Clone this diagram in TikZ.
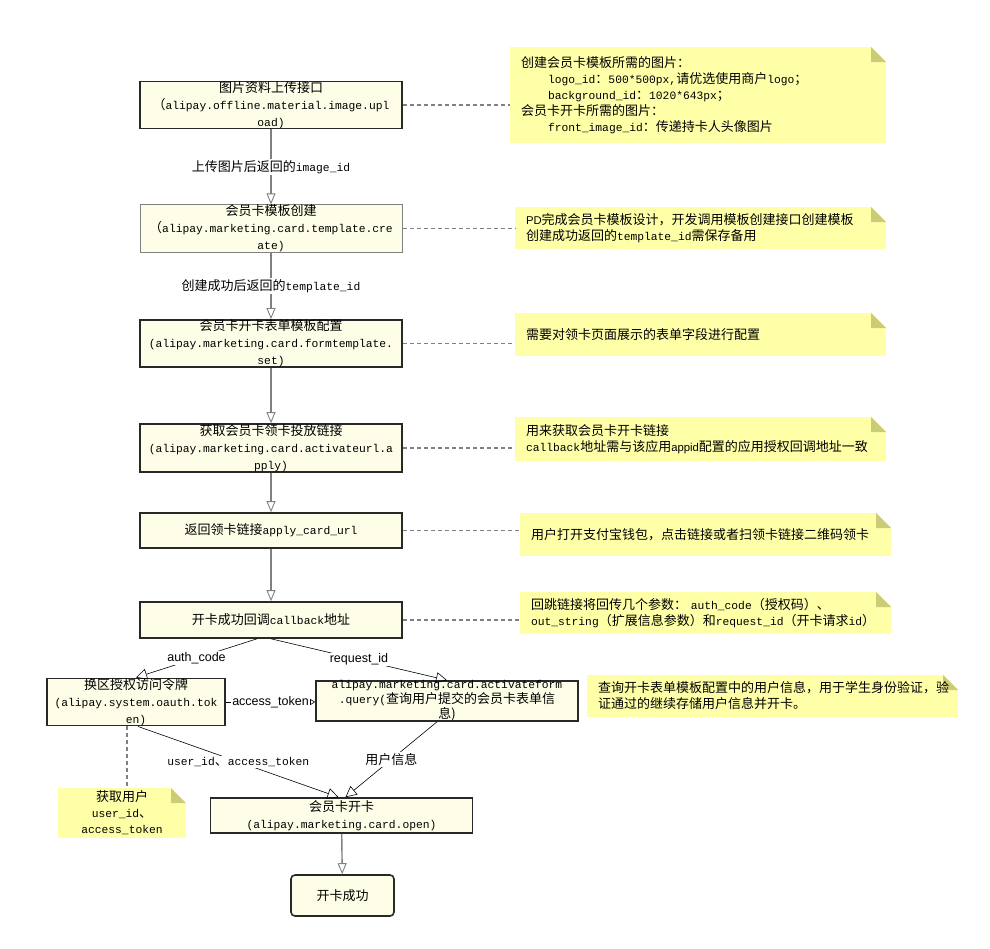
\documentclass[tikz,border=0pt]{standalone}
\usepackage{fontspec}
\setmonofont{Liberation Mono}
\newfontfamily\cjk{Noto Sans CJK SC}
\newfontfamily\lsans{Liberation Sans}
\usetikzlibrary{arrows.meta, positioning, calc}
\definecolor{boxfill}{RGB}{254,254,232}
\definecolor{boxline}{RGB}{40,40,40}
\definecolor{notefill}{RGB}{255,255,168}
\definecolor{notefold}{RGB}{204,204,120}
\definecolor{flowgray}{RGB}{128,128,128}
\newcommand{\zh}[1]{{\cjk\fontsize{13}{16}\selectfont #1}}

\begin{document}
\begin{tikzpicture}[x=1pt, y=-1pt,
  pbox/.style={draw=boxline, line width=1.6pt, fill=boxfill, minimum width=262pt, inner sep=0pt, align=center, font=\ttfamily\fontsize{11.3}{17}\selectfont},
  note/.style={fill=notefill, inner xsep=11pt, inner ysep=0pt, align=left, font=\ttfamily\fontsize{11.3}{16}\selectfont,
    path picture={
      \coordinate (foldne) at (path picture bounding box.north east);
      \fill[white] ([xshift=-15pt]foldne) -- (foldne) -- ([yshift=-15pt]foldne) -- cycle;
      \fill[notefold] ([xshift=-15pt]foldne) -- ([xshift=-15pt,yshift=-15pt]foldne) -- ([yshift=-15pt]foldne) -- cycle;
    }},
  flow/.style={draw=flowgray, line width=1.4pt, -{Triangle[open, length=11pt, width=9pt, line width=0.9pt]}},
  link/.style={draw=black, line width=0.6pt, -{Triangle[open, length=11pt, width=11pt]}},
  notelink/.style={draw=flowgray, line width=1.3pt, dash pattern=on 4pt off 3pt},
  elabel/.style={fill=white, inner sep=1.5pt, font=\ttfamily\fontsize{11.3}{14}\selectfont},
  slabel/.style={fill=white, inner sep=1pt, font=\lsans\fontsize{12.5}{14}\selectfont}
]
  \useasboundingbox (0,0) rectangle (990,948);

  % main flow
  \node[pbox, minimum height=46pt] (upload) at (271,105) {\zh{图片资料上传接口}\\\zh{（}alipay.offline.material.image.upl\\oad)};
  \node[pbox, minimum height=47pt, draw=flowgray, line width=1pt] (template) at (271,228.5) {\zh{会员卡模板创建}\\\zh{（}alipay.marketing.card.template.cre\\ate)};
  \node[pbox, minimum height=47pt] (formtpl) at (271,343.5) {\zh{会员卡开卡表单模板配置}\\(alipay.marketing.card.formtemplate.\\set)};
  \node[pbox, minimum height=48pt] (activurl) at (271,448) {\zh{获取会员卡领卡投放链接}\\(alipay.marketing.card.activateurl.a\\pply)};
  \node[pbox, minimum height=35pt] (cardurl) at (271,530.5) {\zh{返回领卡链接}apply\_card\_url};
  \node[pbox, minimum height=36pt] (callback) at (271,620) {\zh{开卡成功回调}callback\zh{地址}};
  \node[pbox, minimum width=178pt, minimum height=46pt] (oauth) at (136,702) {\zh{换区授权访问令牌}\\(alipay.system.oauth.tok\\en)};
  \node[pbox, minimum height=40pt] (query) at (447,701) {};
  \node[align=center, font=\ttfamily\fontsize{11.3}{15}\selectfont] at (query) {alipay.marketing.card.activateform\\.query(\zh{查询用户提交的会员卡表单信}\\\zh{息)}};
  \node[pbox, minimum height=35pt] (cardopen) at (341.5,815.5) {\zh{会员卡开卡}\\(alipay.marketing.card.open)};
  \node[pbox, minimum width=103pt, minimum height=41pt, rounded corners=4pt] (done) at (342.5,895.5) {\zh{开卡成功}};

  % notes
  \node[note, text width=354pt, minimum height=96pt] (nt1) at (698,95) {\zh{创建会员卡模板所需的图片：}\\
    \hspace*{27pt}logo\_id\zh{：}500*500px,\zh{请优选使用商户}logo\zh{；}\\
    \hspace*{27pt}background\_id\zh{：}1020*643px\zh{；}\\
    \zh{会员卡开卡所需的图片：}\\
    \hspace*{27pt}front\_image\_id\zh{：传递持卡人头像图片}};
  \node[note, text width=349pt, minimum height=42pt] (nt2) at (700.5,228) {{\lsans PD}\zh{完成会员卡模板设计，开发调用模板创建接口创建模板}\\\zh{创建成功返回的}template\_id\zh{需保存备用}};
  \node[note, text width=349pt, minimum height=43pt] (nt3) at (700.5,334.5) {\zh{需要对领卡页面展示的表单字段进行配置}};
  \node[note, text width=349pt, minimum height=44pt] (nt4) at (700.5,439) {\zh{用来获取会员卡开卡链接}\\callback\zh{地址需与该应用}{\lsans appid}\zh{配置的应用授权回调地址一致}};
  \node[note, text width=349pt, minimum height=43pt] (nt5) at (705.5,534.5) {\zh{用户打开支付宝钱包，点击链接或者扫领卡链接二维码领卡}};
  \node[note, text width=349pt, minimum height=42pt] (nt6) at (705.5,613) {\zh{回跳链接将回传几个参数：}~auth\_code\zh{（授权码）、}\\out\_string\zh{（扩展信息参数）和}request\_id\zh{（开卡请求}id\zh{）}};
  \node[note, text width=349pt, minimum height=42pt] (nt7) at (772.5,696) {\zh{查询开卡表单模板配置中的用户信息，用于学生身份验证，验}\\\zh{证通过的继续存储用户信息并开卡。}};
  \node[note, text width=106pt, minimum height=50pt, align=center] (nt8) at (122,813) {\zh{获取用户}\\user\_id\zh{、}\\access\_token};

  % connectors
  \draw[flow] (upload) -- node[elabel] {\zh{上传图片后返回的}image\_id} (template);
  \draw[flow] (template) -- node[elabel] {\zh{创建成功后返回的}template\_id} (formtpl);
  \draw[flow] (formtpl) -- (activurl);
  \draw[flow] (activurl) -- (cardurl);
  \draw[flow] (cardurl) -- (callback);
  \draw[link] ([xshift=-14pt]callback.south) -- node[slabel] {auth\_code} (oauth.north);
  \draw[link] (callback.south) -- node[slabel] {request\_id} (query.north);
  \draw[link, -{Triangle[open, length=5pt, width=6pt]}] (oauth.east) -- node[slabel] {access\_token} (oauth.east -| query.west);
  \draw[link] ([xshift=2pt]oauth.south) -- node[elabel] {user\_id\zh{、}access\_token} ([xshift=-3pt]cardopen.north);
  \draw[link] ([xshift=-10pt]query.south) -- node[elabel] {\zh{用户信息}} ([xshift=4pt]cardopen.north);
  \draw[flow] (cardopen) -- (done);

  \draw[notelink] (upload.east) -- (upload.east -| nt1.west);
  \draw[notelink] (template.east) -- (template.east -| nt2.west);
  \draw[notelink] (formtpl.east) -- (formtpl.east -| nt3.west);
  \draw[notelink] (activurl.east) -- (activurl.east -| nt4.west);
  \draw[notelink] (cardurl.east) -- (cardurl.east -| nt5.west);
  \draw[notelink] (callback.east) -- (callback.east -| nt6.west);
  \draw[notelink] ([xshift=-9pt]oauth.south) -- ([xshift=-9pt]oauth.south |- nt8.north);
\end{tikzpicture}
\end{document}
